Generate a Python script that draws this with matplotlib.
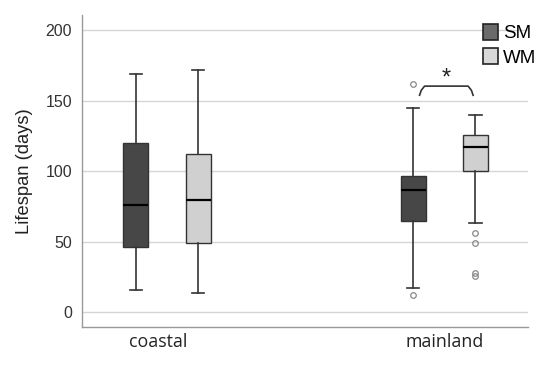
import matplotlib
matplotlib.use("Agg")
import matplotlib.pyplot as plt
from matplotlib.patches import Patch

plt.rcParams['font.family'] = ['Liberation Sans', 'DejaVu Sans']

# data
sites = ["coastal", "mainland"]
groups = ["SM", "WM"]
# per site, per group: whislo, q1, med, q3, whishi
sm_stats = [[16, 46, 76, 120, 169], [17, 65, 86.5, 97, 145]]
wm_stats = [[14, 49, 80, 112, 172], [63, 100, 117, 126, 140]]
sm_fliers = [[], [162, 12]]
wm_fliers = [[], [56, 49, 28, 26]]
yticks = [0, 50, 100, 150, 200]

colors = {"SM": "#474747", "WM": "#d0d0d0"}
edge = "#333333"

fig = plt.figure(figsize=(5.5, 3.65), dpi=100)
ax = fig.add_axes([0.149, 0.104, 0.811, 0.855])

offset = 0.112
width = 0.090
for gi, (g, stats, fl) in enumerate([("SM", sm_stats, sm_fliers), ("WM", wm_stats, wm_fliers)]):
    bstats = []
    for s, f in zip(stats, fl):
        bstats.append(dict(whislo=s[0], q1=s[1], med=s[2], q3=s[3], whishi=s[4], fliers=f))
    pos = [i + (-offset if gi == 0 else offset) for i in range(len(sites))]
    ax.bxp(bstats, positions=pos, widths=width, patch_artist=True, showfliers=True,
           boxprops=dict(facecolor=colors[g], edgecolor=edge, linewidth=1.0),
           medianprops=dict(color="black", linewidth=1.6),
           whiskerprops=dict(color=edge, linewidth=1.2),
           capprops=dict(color=edge, linewidth=1.2),
           capwidths=width * 0.5,
           flierprops=dict(marker="o", markersize=4, markerfacecolor="none",
                           markeredgecolor="#888888", markeredgewidth=0.9))

# significance bracket on mainland
x1, x2 = 1 - offset + 0.023, 1 + offset - 0.008
yb, yt = 154, 160.5
ax.plot([x1, x1 + 0.006, x1 + 0.018, x2 - 0.018, x2 - 0.006, x2],
        [yb, yt - 3, yt, yt, yt - 3, yb], color=edge, lw=1.2,
        solid_joinstyle="round")
ax.text((x1 + x2) / 2, 158, "*", ha="center", va="bottom", fontsize=17,
        color="#222222")

ax.set_xlim(-0.3066, 1.302)
ax.set_ylim(-10.5, 211)
ax.set_yticks(yticks)
# coastal label sits a little left of its boxes in the original
ax.set_xticks([-0.032, 1])
ax.set_xticklabels(sites, fontsize=12.8, family=["Open Sans", "DejaVu Sans"], color="#222222")
ax.tick_params(axis="both", length=0, pad=6)
ax.tick_params(axis="y", labelsize=11.5, labelcolor="#333333", pad=7)
ax.tick_params(axis="x", pad=4)
ax.set_ylabel("Lifespan (days)", fontsize=13.2, color="#222222", labelpad=9)
ax.yaxis.grid(True, color="#d6d6d6", linewidth=1.0)
ax.set_axisbelow(True)
for sp in ["top", "right"]:
    ax.spines[sp].set_visible(False)
for sp in ["left", "bottom"]:
    ax.spines[sp].set_color("#999999")
    ax.spines[sp].set_linewidth(1.0)

handles = [Patch(facecolor="#6a6a6a", edgecolor="#222222", linewidth=1.2, label="SM"),
           Patch(facecolor="#d8d8d8", edgecolor="#222222", linewidth=1.2, label="WM")]
fig.legend(handles=handles, loc="upper left", bbox_to_anchor=(483 / 550, 1 - 24 / 365),
           frameon=False, fontsize=13.5, handlelength=0.78, handleheight=0.9,
           handletextpad=0.3, labelspacing=0.33, borderpad=0, borderaxespad=0)

fig.savefig("out.png", dpi=100)
